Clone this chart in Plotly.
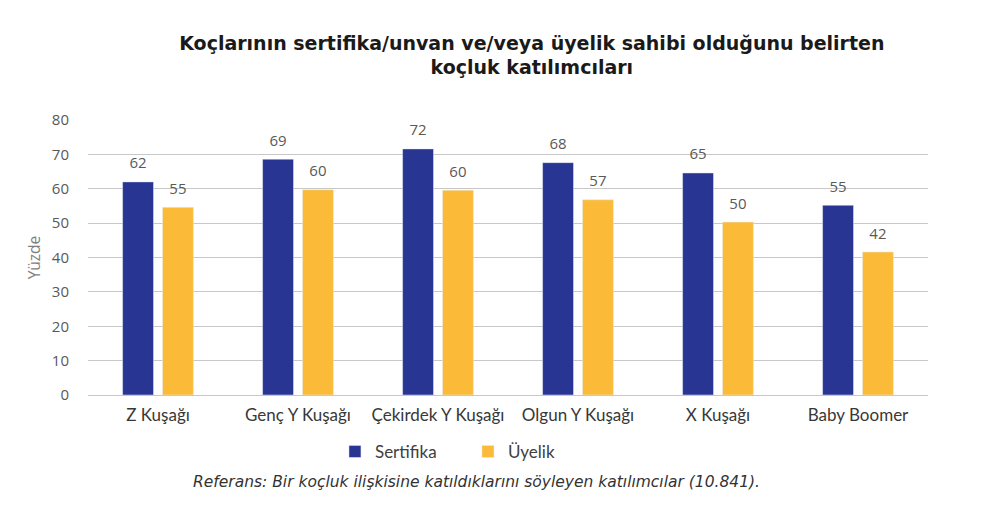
import plotly.graph_objects as go

# Data
categories = ["Z Kuşağı", "Genç Y Kuşağı", "Çekirdek Y Kuşağı",
              "Olgun Y Kuşağı", "X Kuşağı", "Baby Boomer"]
sertifika = [62.0, 68.6, 71.6, 67.6, 64.6, 55.2]
uyelik = [54.6, 59.7, 59.6, 56.8, 50.3, 41.6]
sertifika_labels = ["62", "69", "72", "68", "65", "55"]
uyelik_labels = ["55", "60", "60", "57", "50", "42"]
y_ticks = [0, 10, 20, 30, 40, 50, 60, 70, 80]

navy = "#283593"
yellow = "#FBBB39"
grey_text = "#595959"

fig = go.Figure()

fig.add_trace(go.Bar(x=categories, y=sertifika, name="Sertifika",
                     marker_color=navy, offsetgroup="s", hoverinfo="skip"))
fig.add_trace(go.Bar(x=categories, y=uyelik, name="Üyelik",
                     marker_color=yellow, offsetgroup="u", hoverinfo="skip"))

# value labels, floated a bit above the bars
for vals, labs, grp in [(sertifika, sertifika_labels, "s"), (uyelik, uyelik_labels, "u")]:
    fig.add_trace(go.Scatter(
        x=categories, y=vals, text=labs, mode="markers+text",
        textposition="top center", offsetgroup=grp,
        marker=dict(size=14, color="rgba(0,0,0,0)"),
        textfont=dict(family="Open Sans", size=15, color=grey_text),
        showlegend=False, hoverinfo="skip"))

# the page body adds 8px on the left/top, so margins are shifted by that
fig.update_layout(
    width=994, height=521,
    barmode="group", bargap=0.43, bargroupgap=0.225,
    scattermode="group", scattergap=0.43,
    plot_bgcolor="white", paper_bgcolor="white",
    margin=dict(l=80, r=74, t=112, b=134, autoexpand=False),
    title=dict(
        text="<b>Koçlarının sertifika/unvan ve/veya üyelik sahibi olduğunu belirten<br>koçluk katılımcıları</b>",
        x=0.527, xanchor="center", y=0.92, yanchor="middle",
        font=dict(family="DejaVu Sans", size=19, color="#1a1a1a")),
    legend=dict(orientation="h", x=0.294, xanchor="left", y=-0.207, yanchor="middle",
                font=dict(family="Lato", size=17, color="#404040"),
                itemwidth=30, entrywidth=88, tracegroupgap=0),
    showlegend=True,
)

fig.update_xaxes(showgrid=False, showline=False, ticks="", automargin=False,
                 tickfont=dict(family="Lato", size=17, color="#383838"),
                 ticklabelstandoff=8)
fig.update_yaxes(range=[0, 80], tickvals=y_ticks, showgrid=True, automargin=False,
                 gridcolor="#C8C8C8", gridwidth=1, zeroline=True,
                 zerolinecolor="#C8C8C8", zerolinewidth=1, showline=False,
                 tickfont=dict(family="Open Sans", size=15, color=grey_text),
                 ticklabelstandoff=18,
                 title=dict(text="Yüzde", font=dict(family="Open Sans", size=15.5, color="#7f7f7f"),
                            standoff=7))

fig.add_annotation(
    text="<i>Referans: Bir koçluk ilişkisine katıldıklarını söyleyen katılımcılar (10.841).</i>",
    xref="paper", yref="paper", x=0.463, y=-0.316, xanchor="center", yanchor="middle",
    showarrow=False, font=dict(family="DejaVu Sans", size=15.5, color="#333333"))

fig.write_html("out.html")
